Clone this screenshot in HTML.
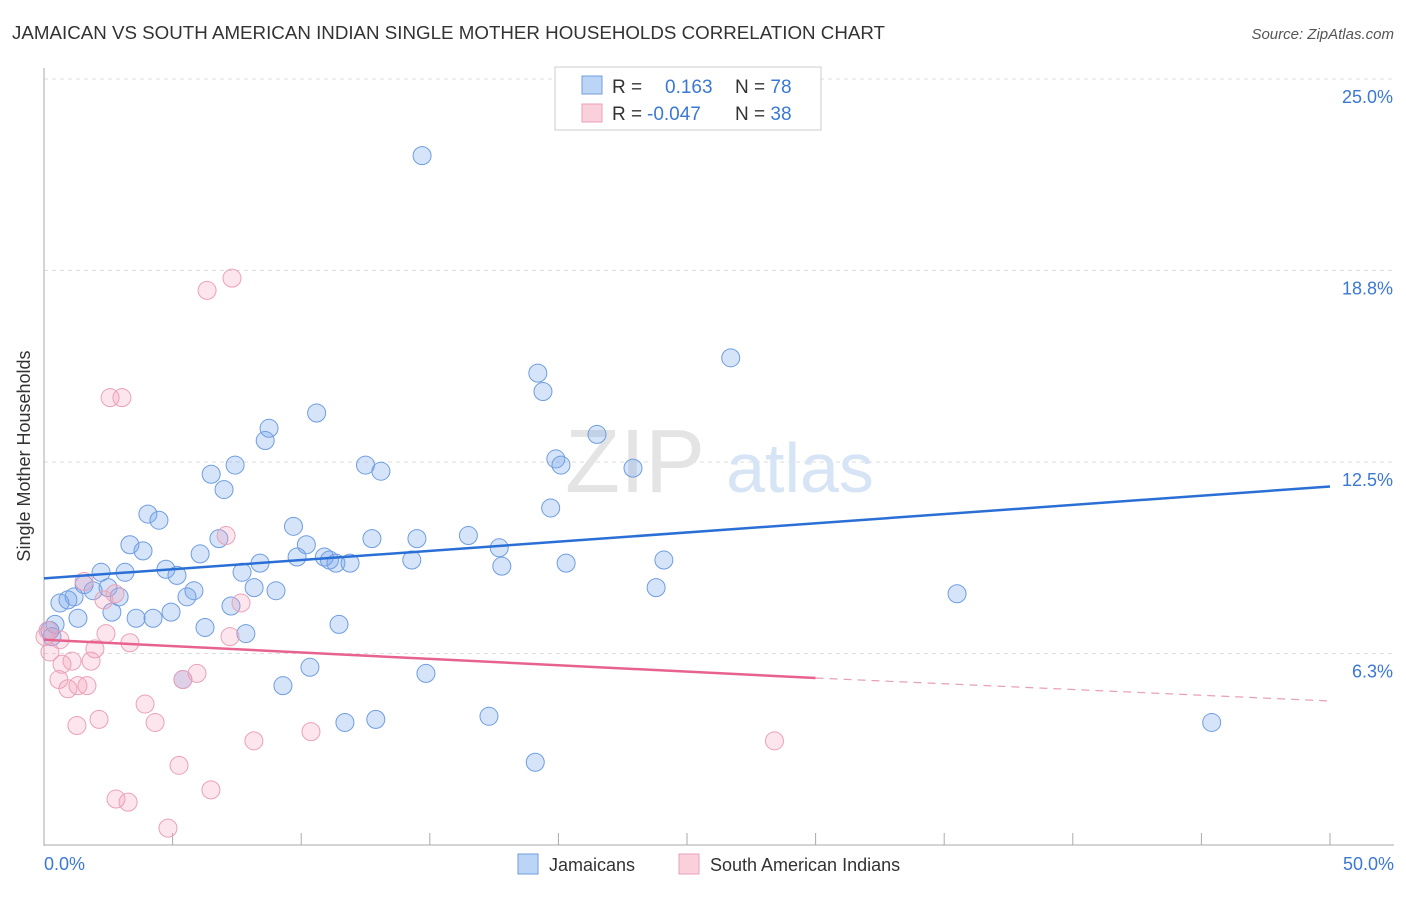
<!DOCTYPE html>
<html><head><meta charset="utf-8"><style>
body{margin:0;background:#fff;font-family:"Liberation Sans",sans-serif}
svg text{font-family:"Liberation Sans",sans-serif}
</style></head><body>
<svg width="1406" height="892">
<text x="12" y="39" font-size="18" fill="#333" textLength="873" lengthAdjust="spacingAndGlyphs">JAMAICAN VS SOUTH AMERICAN INDIAN SINGLE MOTHER HOUSEHOLDS CORRELATION CHART</text>
<text x="1394" y="39" font-size="15" fill="#555" font-style="italic" text-anchor="end">Source: ZipAtlas.com</text>
<g id="grid"></g>
<text x="635" y="492" font-size="90" fill="#e4e4e4" font-family="Liberation Serif" text-anchor="middle">ZIP</text>
<text x="800" y="492" font-size="70" fill="#d6e4f5" text-anchor="middle">atlas</text>
<line x1="44" y1="68" x2="44" y2="846" stroke="#aaa"/>
<line x1="44" y1="845" x2="1394" y2="845" stroke="#aaa"/>
<g id="ticks"></g>
<g id="pts"></g>
<g id="trend"></g>
<text x="30" y="456" font-size="18" fill="#333" transform="rotate(-90 30 456)" text-anchor="middle">Single Mother Households</text>
<text x="44" y="870" font-size="18" fill="#3a78d4">0.0%</text>
<text x="1394" y="870" font-size="18" fill="#3a78d4" text-anchor="end">50.0%</text>
<g>
<rect x="555" y="67" width="266" height="63" fill="#fff" stroke="#ccc"/>
<rect x="582" y="76" width="20" height="18" fill="#bcd4f5" stroke="#6f9de0"/>
<rect x="582" y="104" width="20" height="18" fill="#fbd0dd" stroke="#eba1b8"/>
<text x="612" y="93" font-size="19" fill="#333">R = <tspan fill="#3a78d4" x="665">0.163</tspan><tspan x="735">N = </tspan><tspan fill="#3a78d4">78</tspan></text>
<text x="612" y="120" font-size="19" fill="#333">R = <tspan fill="#3a78d4" x="647">-0.047</tspan><tspan x="735">N = </tspan><tspan fill="#3a78d4">38</tspan></text>
</g>
<g><rect x="518" y="854" width="20" height="20" fill="#bcd4f5" stroke="#6f9de0"/><text x="549" y="871" font-size="18" fill="#333">Jamaicans</text></g>
<g><rect x="679" y="854" width="20" height="20" fill="#fbd0dd" stroke="#eba1b8"/><text x="710" y="871" font-size="18" fill="#333">South American Indians</text></g>
</svg>
<script>
const yTicks=[6.25,12.5,18.75,25];
const yTickLabels=["6.3%","12.5%","18.8%","25.0%"];
const jamX=[14.7,26.7,19.2,19.4,21.5,10.6,8.75,8.6,19.9,12.5,20.1,22.9,7.43,13.1,6.5,7.0,19.7,4.04,4.47,9.7,6.8,16.5,14.5,12.75,10.2,3.34,3.85,17.7,6.07,9.84,10.9,11.1,11.35,11.9,14.3,17.8,20.3,24.1,8.4,7.7,4.74,5.17,3.15,2.22,1.56,1.91,2.49,2.92,1.17,0.93,0.62,5.83,5.56,8.17,9.02,23.8,35.5,2.64,3.58,4.24,4.94,7.27,1.32,0.43,0.23,0.31,6.26,7.85,11.47,5.4,10.34,14.85,9.29,11.7,12.9,17.3,19.1,45.4];
const jamY=[22.5,15.9,15.4,14.8,13.4,14.1,13.6,13.2,12.6,12.4,12.4,12.3,12.4,12.2,12.1,11.6,11.0,10.8,10.6,10.4,10.0,10.1,10.0,10.0,9.8,9.8,9.6,9.7,9.5,9.4,9.4,9.3,9.2,9.2,9.3,9.1,9.2,9.3,9.2,8.9,9.0,8.8,8.9,8.9,8.5,8.3,8.4,8.1,8.1,8.0,7.9,8.3,8.1,8.4,8.3,8.4,8.2,7.6,7.4,7.4,7.6,7.8,7.4,7.2,7.0,6.8,7.1,6.9,7.2,5.4,5.8,5.6,5.2,4.0,4.1,4.2,2.7,4.0];
const saiX=[7.31,6.34,2.57,3.03,7.08,1.56,2.33,2.76,7.66,2.41,3.34,7.23,1.98,0.16,0.23,0.7,1.09,1.83,0.58,0.93,1.32,1.67,5.95,5.4,3.93,2.14,4.32,1.28,10.38,8.16,28.4,5.25,6.49,2.8,3.27,4.82,0.04,0.62];
const saiY=[18.5,18.1,14.6,14.6,10.1,8.6,8.0,8.2,7.9,6.9,6.6,6.8,6.4,7.0,6.3,5.9,6.0,6.0,5.4,5.1,5.2,5.2,5.6,5.4,4.6,4.1,4.0,3.9,3.7,3.4,3.4,2.6,1.8,1.5,1.4,0.55,6.8,6.7];
const jamTrend=[8.7,11.7];
const saiTrend=[6.7,5.45,4.7];
const NS="http://www.w3.org/2000/svg";
const X0=44,X1=1330,Y0=845,YPX=30.64;
const xs=v=>X0+(X1-X0)*v/50;
const ys=v=>Y0-v*YPX;
function mk(t,a,p){const e=document.createElementNS(NS,t);for(const k in a)e.setAttribute(k,a[k]);p.appendChild(e);return e;}
const grid=document.getElementById('grid');
yTicks.forEach((v,i)=>{
 const l=mk('line',{x1:44,x2:1394,y1:ys(v),y2:ys(v),stroke:'#ddd','stroke-dasharray':'4,4'},grid);
 
 
 const t=mk('text',{x:1393,y:ys(v)+24,'font-size':18,fill:'#3a78d4','text-anchor':'end'},grid);
 t.textContent=yTickLabels[i];
 
 
});
const ticks=document.getElementById('ticks');
for(let i=0;i<=10;i++){
 const l=mk('line',{x1:xs(i*5),x2:xs(i*5),y1:833,y2:845,stroke:'#aaa'},ticks);
 
 
}
const pts=document.getElementById('pts');
jamX.forEach((x,i)=>{
 const c=mk('circle',{cx:xs(x),cy:ys(jamY[i]),r:9,fill:'rgba(120,165,235,0.3)',stroke:'#6f9de0','stroke-width':1},pts);
 
 
});
saiX.forEach((x,i)=>{
 const c=mk('circle',{cx:xs(x),cy:ys(saiY[i]),r:9,fill:'rgba(245,160,185,0.28)',stroke:'#eba1b8','stroke-width':1},pts);
 
 
});
const tr=document.getElementById('trend');
const b=mk('line',{x1:xs(0),y1:ys(jamTrend[0]),x2:xs(50),y2:ys(jamTrend[1]),stroke:'#2a6fd6','stroke-width':2.5},tr);


const p=mk('line',{x1:xs(0),y1:ys(saiTrend[0]),x2:xs(30),y2:ys(saiTrend[1]),stroke:'#e8628e','stroke-width':2.5},tr);


const pd=mk('line',{x1:xs(30),y1:ys(saiTrend[1]),x2:xs(50),y2:ys(saiTrend[2]),stroke:'#e8a0b8','stroke-width':1.2,'stroke-dasharray':'8,6'},tr);


</script>
</body></html>
